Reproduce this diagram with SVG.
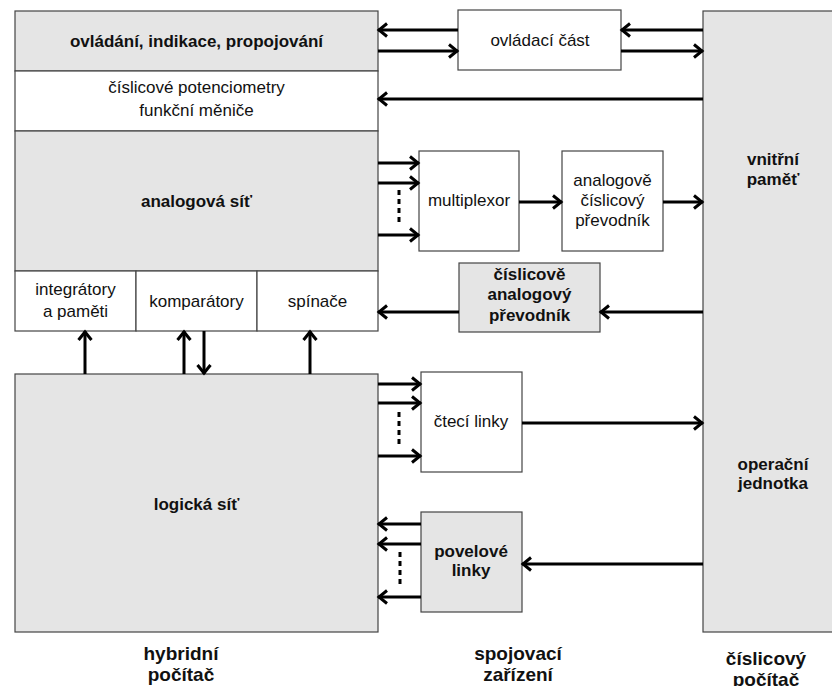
<svg xmlns="http://www.w3.org/2000/svg" width="832" height="686" viewBox="0 0 832 686">
<defs>
<style>
.box{stroke:#444;stroke-width:1.2}
.g{fill:#e5e5e5}
.w{fill:#ffffff}
.t{font-family:"Liberation Sans",Arial,sans-serif;font-size:17px;fill:#111;text-anchor:middle}
.b{font-weight:bold}
.big{font-family:"Liberation Sans",Arial,sans-serif;font-size:19px;font-weight:bold;fill:#111;text-anchor:middle}
.c{stroke:#000;stroke-width:3;fill:none}
.d{stroke:#000;stroke-width:3;fill:none;stroke-dasharray:5 4}
</style>
<marker id="ah" markerUnits="userSpaceOnUse" markerWidth="14" markerHeight="16" refX="11" refY="8" orient="auto" overflow="visible">
<path d="M2,1.5 L10,8 L2,14.5" fill="none" stroke="#000" stroke-width="3"/>
</marker>
</defs>
<rect width="832" height="686" fill="#fff"/>

<g id="ovladani">
<rect class="box g" x="15" y="11" width="363" height="60"/>
<text class="t b" x="196.5" y="47">ovládání, indikace, propojování</text>
</g>
<g id="potenciometry">
<rect class="box w" x="15" y="71" width="363" height="60"/>
<text class="t" x="196.5" y="93">číslicové potenciometry</text>
<text class="t" x="196.5" y="116">funkční měniče</text>
</g>
<g id="analogova-sit">
<rect class="box g" x="15" y="131" width="363" height="140"/>
<text class="t b" x="196.5" y="207">analogová síť</text>
</g>
<g id="integratory">
<rect class="box w" x="15" y="271" width="121" height="60"/>
<text class="t" x="75.5" y="295">integrátory</text>
<text class="t" x="75.5" y="317">a paměti</text>
</g>
<g id="komparatory">
<rect class="box w" x="136" y="271" width="121" height="60"/>
<text class="t" x="196.5" y="307">komparátory</text>
</g>
<g id="spinace">
<rect class="box w" x="257" y="271" width="121" height="60"/>
<text class="t" x="317.5" y="307">spínače</text>
</g>
<g id="logicka-sit">
<rect class="box g" x="15" y="374" width="363" height="258"/>
<text class="t b" x="196.5" y="510">logická síť</text>
</g>
<g id="ovladaci-cast">
<rect class="box w" x="458" y="10" width="163" height="60"/>
<text class="t" x="540" y="46">ovládací část</text>
</g>
<g id="multiplexor">
<rect class="box w" x="419" y="151" width="100" height="100"/>
<text class="t" x="469" y="206">multiplexor</text>
</g>
<g id="adc">
<rect class="box w" x="562" y="151" width="101" height="100"/>
<text class="t" x="612.5" y="186">analogově</text>
<text class="t" x="612.5" y="206">číslicový</text>
<text class="t" x="612.5" y="226">převodník</text>
</g>
<g id="dac">
<rect class="box g" x="459" y="263" width="141" height="69"/>
<text class="t b" x="529.5" y="280">číslicově</text>
<text class="t b" x="529.5" y="300">analogový</text>
<text class="t b" x="529.5" y="321">převodník</text>
</g>
<g id="cteci-linky">
<rect class="box w" x="421" y="372" width="101" height="100"/>
<text class="t" x="471" y="427">čtecí linky</text>
</g>
<g id="povelove-linky">
<rect class="box g" x="421" y="512" width="101" height="100"/>
<text class="t b" x="471" y="557">povelové</text>
<text class="t b" x="471" y="576">linky</text>
</g>
<g id="cislicovy-pocitac">
<rect class="box g" x="703" y="11" width="140" height="621"/>
<text class="t b" x="773" y="165">vnitřní</text>
<text class="t b" x="773" y="185">paměť</text>
<text class="t b" x="773" y="470">operační</text>
<text class="t b" x="773" y="489">jednotka</text>
</g>

<g id="labels">
<text class="big" x="181" y="660">hybridní</text>
<text class="big" x="181" y="681">počítač</text>
<text class="big" x="518" y="660">spojovací</text>
<text class="big" x="518" y="681">zařízení</text>
<text class="big" x="766" y="665">číslicový</text>
<text class="big" x="766" y="686">počítač</text>
</g>

<g id="connectors">
<line class="c" x1="458" y1="30" x2="378" y2="30" marker-end="url(#ah)"/>
<line class="c" x1="378" y1="51" x2="458" y2="51" marker-end="url(#ah)"/>
<line class="c" x1="703" y1="30" x2="621" y2="30" marker-end="url(#ah)"/>
<line class="c" x1="621" y1="51" x2="703" y2="51" marker-end="url(#ah)"/>
<line class="c" x1="703" y1="99" x2="378" y2="99" marker-end="url(#ah)"/>

<line class="c" x1="378" y1="163" x2="419" y2="163" marker-end="url(#ah)"/>
<line class="c" x1="378" y1="183" x2="419" y2="183" marker-end="url(#ah)"/>
<line class="c" x1="378" y1="235" x2="419" y2="235" marker-end="url(#ah)"/>
<line class="d" x1="399" y1="190" x2="399" y2="222"/>
<line class="c" x1="519" y1="202" x2="562" y2="202" marker-end="url(#ah)"/>
<line class="c" x1="663" y1="202" x2="703" y2="202" marker-end="url(#ah)"/>

<line class="c" x1="703" y1="312" x2="600" y2="312" marker-end="url(#ah)"/>
<line class="c" x1="459" y1="312" x2="378" y2="312" marker-end="url(#ah)"/>

<line class="c" x1="85" y1="374" x2="85" y2="331" marker-end="url(#ah)"/>
<line class="c" x1="184" y1="374" x2="184" y2="331" marker-end="url(#ah)"/>
<line class="c" x1="204" y1="331" x2="204" y2="374" marker-end="url(#ah)"/>
<line class="c" x1="310" y1="374" x2="310" y2="331" marker-end="url(#ah)"/>

<line class="c" x1="378" y1="384" x2="421" y2="384" marker-end="url(#ah)"/>
<line class="c" x1="378" y1="403" x2="421" y2="403" marker-end="url(#ah)"/>
<line class="c" x1="378" y1="456" x2="421" y2="456" marker-end="url(#ah)"/>
<line class="d" x1="399" y1="412" x2="399" y2="444"/>
<line class="c" x1="522" y1="423" x2="703" y2="423" marker-end="url(#ah)"/>

<line class="c" x1="421" y1="524" x2="378" y2="524" marker-end="url(#ah)"/>
<line class="c" x1="421" y1="544" x2="378" y2="544" marker-end="url(#ah)"/>
<line class="c" x1="421" y1="597" x2="378" y2="597" marker-end="url(#ah)"/>
<line class="d" x1="400" y1="552" x2="400" y2="584"/>
<line class="c" x1="703" y1="564" x2="522" y2="564" marker-end="url(#ah)"/>
</g>
</svg>
